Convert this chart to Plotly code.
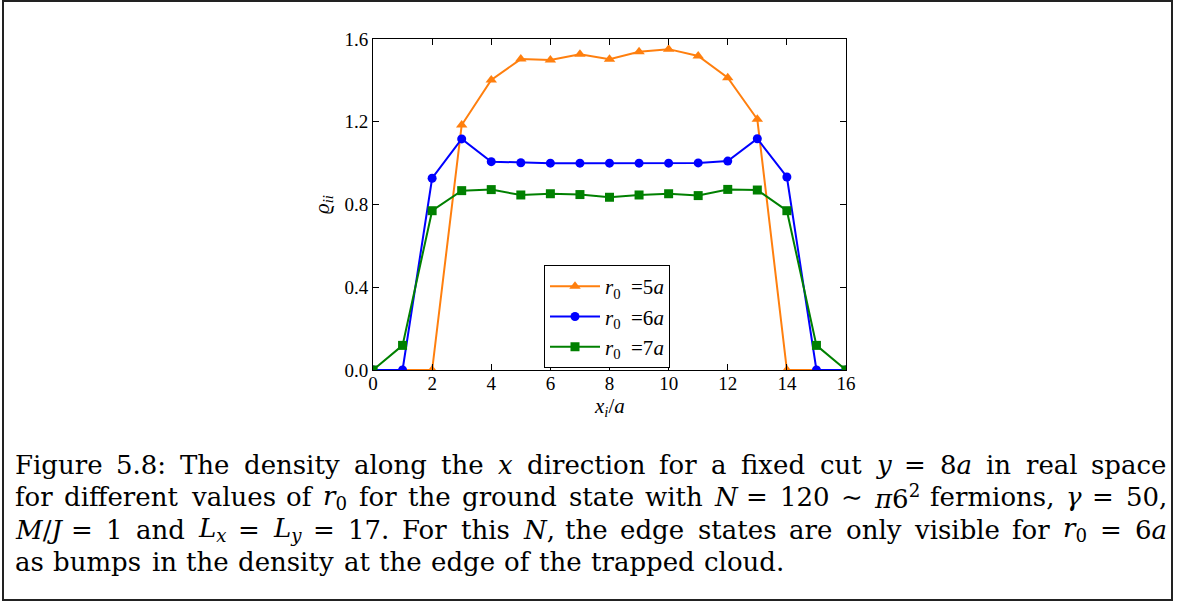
import plotly.graph_objects as go

# Site index along the cut and density values for each trap radius
x_sites = list(range(17))
rho_r5 = [0.0, 0.0, 0.0, 1.184, 1.402, 1.503, 1.498, 1.526, 1.502, 1.538,
          1.551, 1.518, 1.413, 1.212, 0.0, 0.0, 0.0]
rho_r6 = [0.0, 0.0, 0.927, 1.117, 1.007, 1.002, 1.0, 1.0, 1.0, 1.0,
          1.0, 1.001, 1.010, 1.118, 0.933, 0.0, 0.0]
rho_r7 = [0.0, 0.119, 0.770, 0.867, 0.872, 0.846, 0.852, 0.848, 0.835, 0.846,
          0.852, 0.843, 0.873, 0.870, 0.770, 0.119, 0.0]

series_names = ["<i>r</i><sub>0</sub>&nbsp;&nbsp;=5<i>a</i>",
                "<i>r</i><sub>0</sub>&nbsp;&nbsp;=6<i>a</i>",
                "<i>r</i><sub>0</sub>&nbsp;&nbsp;=7<i>a</i>"]
x_ticks = [0, 2, 4, 6, 8, 10, 12, 14, 16]
y_ticks = [0.0, 0.4, 0.8, 1.2, 1.6]
y_tick_text = ["0.0", "0.4", "0.8", "1.2", "1.6"]

# Caption, one list of words per typeset line.  Each word is a list of
# (text, style) runs: "r" roman, "i" italic, "sub"/"sup" script, "isub" italic script.
caption_lines = [
    [[("Figure", "r")], [("5.8:", "r")], [("The", "r")], [("density", "r")],
     [("along", "r")], [("the", "r")], [("x", "i")], [("direction", "r")],
     [("for", "r")], [("a", "r")], [("fixed", "r")], [("cut", "r")],
     [("y", "i")], [("=", "r")], [("8", "r"), ("a", "i")], [("in", "r")],
     [("real", "r")], [("space", "r")]],
    [[("for", "r")], [("different", "r")], [("values", "r")], [("of", "r")],
     [("r", "i"), ("0", "sub")], [("for", "r")], [("the", "r")], [("ground", "r")],
     [("state", "r")], [("with", "r")], [("N", "i")], [("=", "r")], [("120", "r")],
     [("∼", "r")], [("π", "i"), ("6", "r"), ("2", "sup")], [("fermions,", "r")],
     [("γ", "i")], [("=", "r")], [("50,", "r")]],
    [[("M", "i"), ("/", "r"), ("J", "i")], [("=", "r")], [("1", "r")], [("and", "r")],
     [("L", "i"), ("x", "isub")], [("=", "r")], [("L", "i"), ("y", "isub")], [("=", "r")],
     [("17.", "r")], [("For", "r")], [("this", "r")], [("N", "i"), (",", "r")],
     [("the", "r")], [("edge", "r")], [("states", "r")], [("are", "r")], [("only", "r")],
     [("visible", "r")], [("for", "r")], [("r", "i"), ("0", "sub")], [("=", "r")],
     [("6", "r"), ("a", "i")]],
    [[("as", "r")], [("bumps", "r")], [("in", "r")], [("the", "r")], [("density", "r")],
     [("at", "r")], [("the", "r")], [("edge", "r")], [("of", "r")], [("the", "r")],
     [("trapped", "r")], [("cloud.", "r")]],
]
caption_justified = [True, True, True, False]

W, H = 1177, 603
L, R, T, B = 373, 331, 39, 233
PW, PH = W - L - R, H - T - B


def px(xp):
    return (xp - L) / PW


def py(yp):
    return (H - B - yp) / PH


SERIF = "Liberation Serif"
CAP_FONT = "DejaVu Serif"
CAP_SIZE = 26

# Approximate advance widths (per 1000 em) of the caption face
ROMAN_W = {
    "a": 596, "b": 641, "c": 560, "d": 641, "e": 592, "f": 371, "g": 641, "h": 649,
    "i": 320, "j": 320, "k": 608, "l": 320, "m": 969, "n": 649, "o": 602, "p": 641,
    "q": 641, "r": 480, "s": 519, "t": 401, "u": 649, "v": 569, "w": 825, "x": 569,
    "y": 569, "z": 525, "F": 669, "T": 669, "M": 929, "J": 400, "L": 659, "N": 800,
    ".": 318, ":": 337, ",": 318, "=": 838, "/": 337, "∼": 838, " ": 318,
}
ITALIC_W = {"a": 596, "x": 569, "y": 569, "r": 480, "N": 800, "M": 929,
            "J": 400, "L": 659, "π": 620, "γ": 560}


def run_width(text, style):
    total = 0.0
    for ch in text:
        if ch.isdigit():
            w = 636
        elif style in ("i", "isub"):
            w = ITALIC_W.get(ch, ROMAN_W.get(ch, 600))
        else:
            w = ROMAN_W.get(ch, 600)
        total += w
    scale = 0.7 if style in ("sub", "sup", "isub") else 1.0
    return total / 1000.0 * CAP_SIZE * scale


def run_html(text, style):
    if style == "i":
        return f"<i>{text}</i>"
    if style == "sub":
        return f"<sub>{text}</sub>"
    if style == "sup":
        return f"<sup>{text}</sup>"
    if style == "isub":
        return f"<sub><i>{text}</i></sub>"
    return text


fig = go.Figure()
styles = [
    (rho_r5, "#ff7f0e", "triangle-up", 10),
    (rho_r6, "#0000ff", "circle", 9),
    (rho_r7, "#008000", "square", 9),
]
for (vals, color, sym, size), name in zip(styles, series_names):
    fig.add_trace(go.Scatter(
        x=x_sites, y=vals, mode="lines+markers", name=name,
        line=dict(color=color, width=2),
        marker=dict(symbol=sym, size=size, color=color),
    ))

axis_common = dict(
    showgrid=False, zeroline=False, showline=True, linecolor="black",
    linewidth=1, mirror="allticks", ticks="inside", ticklen=6,
    tickcolor="black", tickwidth=1,
    tickfont=dict(family=SERIF, size=19, color="black"),
)
fig.update_xaxes(range=[0, 16], tickvals=x_ticks, ticklabelstandoff=-4,
                 **axis_common)
fig.update_yaxes(range=[0, 1.6], tickvals=y_ticks, ticktext=y_tick_text,
                 **axis_common)

# Axis labels
fig.add_annotation(x=0.5, y=py(407), xref="paper", yref="paper",
                   xanchor="center", yanchor="middle",
                   text="<i>x<sub>i</sub></i>/<i>a</i>", showarrow=False,
                   font=dict(family=SERIF, size=21, color="black"))
fig.add_annotation(x=px(323), y=py(205), xref="paper", yref="paper",
                   xanchor="center", yanchor="middle",
                   text="<i>ϱ<sub>ii</sub></i>", textangle=-90, showarrow=False,
                   font=dict(family=SERIF, size=21, color="black"))

# Caption under the chart, laid out word by word so full lines are justified
CAP_LEFT, CAP_RIGHT = 13, 1165
for i, (words, justify) in enumerate(zip(caption_lines, caption_justified)):
    widths = [sum(run_width(t, s) for t, s in w) for w in words]
    if justify:
        gap = (CAP_RIGHT - CAP_LEFT - sum(widths)) / (len(words) - 1)
    else:
        gap = 0.36 * CAP_SIZE
    xpos = CAP_LEFT
    ycen = 465 + i * 32.3
    for w, wd in zip(words, widths):
        fig.add_annotation(x=px(xpos), y=py(ycen), xref="paper", yref="paper",
                           xanchor="left", yanchor="middle",
                           text="".join(run_html(t, s) for t, s in w),
                           showarrow=False,
                           font=dict(family=CAP_FONT, size=CAP_SIZE, color="black"))
        xpos += wd + gap

# Outer frame around figure and caption
fig.add_shape(type="rect", xref="paper", yref="paper",
              x0=px(3), x1=px(1172), y0=py(600), y1=py(1),
              line=dict(color="#222222", width=2), layer="below")

fig.update_layout(
    width=W, height=H, autosize=False,
    margin=dict(l=L, r=R, t=T, b=B),
    paper_bgcolor="white", plot_bgcolor="white",
    showlegend=True,
    legend=dict(
        x=px(544), y=py(265), xanchor="left", yanchor="top",
        bordercolor="black", borderwidth=1, bgcolor="white",
        font=dict(family=SERIF, size=21, color="black"),
        itemwidth=50, tracegroupgap=0,
    ),
)

fig.write_html("out.html")
